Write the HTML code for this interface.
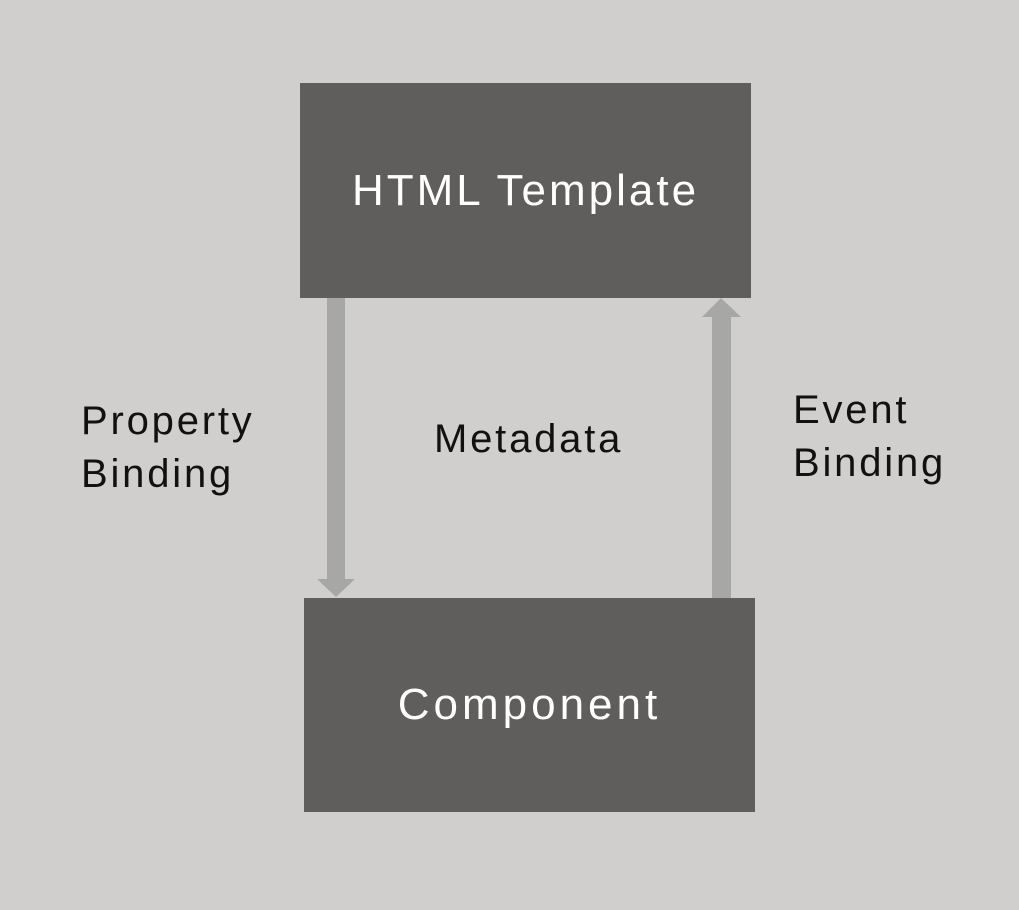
<!DOCTYPE html>
<html><head><style>
body{margin:0;width:1019px;height:910px;background:#d0cfcd;position:relative;overflow:hidden;font-family:"Liberation Sans",sans-serif;}
.box{position:absolute;background:#5f5e5c;color:#fff;display:flex;align-items:center;justify-content:center;font-size:44px;letter-spacing:3px;}
.t{position:absolute;color:#111;font-size:40px;line-height:53px;white-space:nowrap;letter-spacing:2.8px;}
</style></head><body>
<div class="box" style="left:300px;top:83px;width:451px;height:215px;">HTML Template</div>
<div class="box" style="left:304px;top:598px;width:451px;height:214px;letter-spacing:4px;">Component</div>
<svg width="1019" height="910" style="position:absolute;left:0;top:0">
<rect x="327" y="298" width="18" height="282" fill="#a7a8a6"/>
<polygon points="317,579 355,579 336,597" fill="#a7a8a6"/>
<rect x="712" y="316" width="19" height="282" fill="#a7a8a6"/>
<polygon points="702,317 741,317 721,298" fill="#a7a8a6"/>
</svg>
<div class="t" style="left:434px;top:413px;">Metadata</div>
<div class="t" style="left:81px;top:395px;">Property<br>Binding</div>
<div class="t" style="left:793px;top:384px;">Event<br>Binding</div>
</body></html>
